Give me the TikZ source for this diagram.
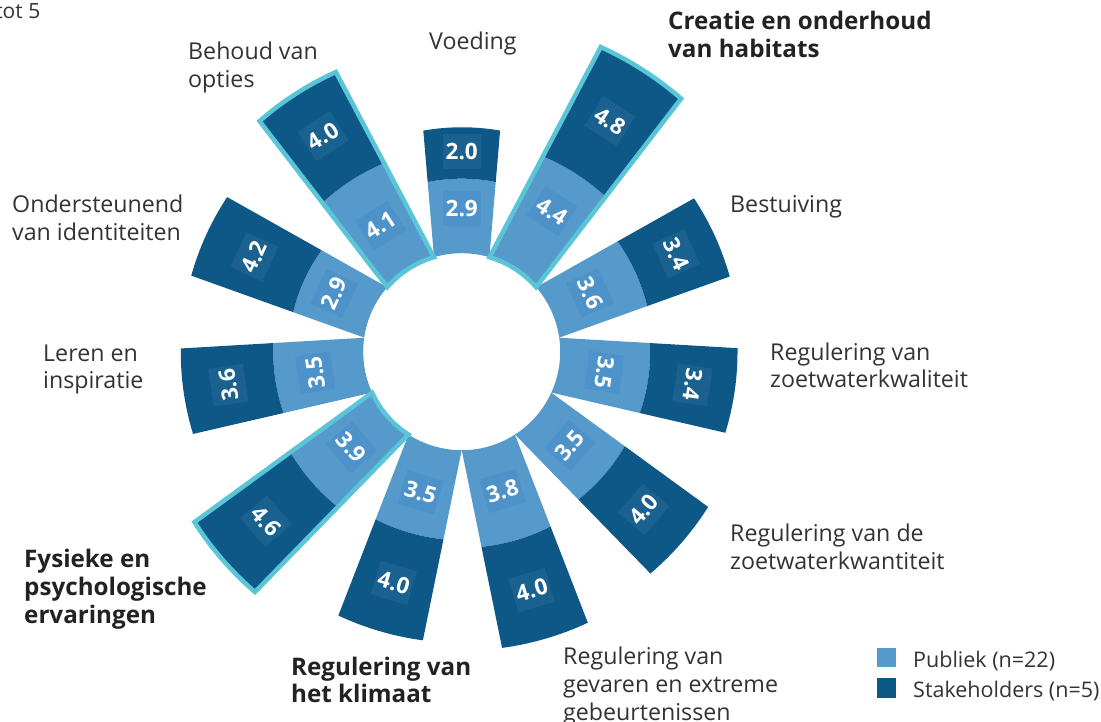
\documentclass[tikz,border=0pt]{standalone}
\usepackage{fontspec}
\setmainfont{Open Sans}
\definecolor{lightbar}{HTML}{5699CB}
\definecolor{darkbar}{HTML}{0E5887}
\definecolor{lightbox}{HTML}{4D93C9}
\definecolor{darkbox}{HTML}{1A618F}
\definecolor{hl}{HTML}{5AC5D7}
\definecolor{txt}{HTML}{333333}
\definecolor{btxt}{HTML}{222222}

\newcommand\wa{19.7}
\newcommand\wb{0.0846}
\newcommand\rz{98.5}
\newcommand\ku{25.7}

% half-angle of a bar side at radius #2, stored in #1
\newcommand\sideang[2]{%
  \pgfmathsetmacro\tmpS{\wa+\wb*#2}%
  \pgfmathsetmacro\tmpQ{\tmpS/#2}%
  \pgfmathsetmacro\tmpT{#2*sqrt(1-\tmpQ*\tmpQ)}%
  \pgfmathsetmacro\tmpS{\wa+\wb*\tmpT}%
  \pgfmathsetmacro#1{asin(\tmpS/#2)}%
}

% #1 name, #2 angle, #3 publiek, #4 stakeholders, #5 label rotation, #6 radius of inner label
\newcommand\ringbar[6]{%
  \pgfmathsetmacro\rA{\rz}%
  \pgfmathsetmacro\rB{\rz+\ku*#3}%
  \pgfmathsetmacro\rC{\rB+\ku*#4}%
  \sideang\aA\rA \sideang\aB\rB \sideang\aC\rC
  \fill[lightbar] ({#2+\aA}:\rA) -- ({#2+\aB}:\rB)
     arc[start angle={#2+\aB}, end angle={#2-\aB}, radius=\rB]
     -- ({#2-\aA}:\rA)
     arc[start angle={#2-\aA}, end angle={#2+\aA}, radius=\rA] -- cycle;
  \fill[darkbar] ({#2+\aB}:\rB) -- ({#2+\aC}:\rC)
     arc[start angle={#2+\aC}, end angle={#2-\aC}, radius=\rC]
     -- ({#2-\aB}:\rB)
     arc[start angle={#2-\aB}, end angle={#2+\aB}, radius=\rB] -- cycle;
  \pgfmathsetmacro\rM{\rB+0.5*(\rC-\rB)+1}%
  \node[numbox, fill=lightbox, rotate=#5] (#1p) at (#2:#6) {#3};
  \node[numbox, fill=darkbox, rotate=#5] (#1s) at (#2:\rM) {#4};
}

% cyan outline: #1 angle, #2 publiek, #3 stakeholders
\newcommand\ringoutline[3]{%
  \pgfmathsetmacro\rA{\rz}%
  \pgfmathsetmacro\rC{\rz+\ku*(#2+#3)}%
  \sideang\aA\rA \sideang\aC\rC
  \draw[hl, line width=4.5pt, line join=miter] ({#1+\aA}:\rA) -- ({#1+\aC}:\rC)
     arc[start angle={#1+\aC}, end angle={#1-\aC}, radius=\rC]
     -- ({#1-\aA}:\rA)
     arc[start angle={#1-\aA}, end angle={#1+\aA}, radius=\rA] -- cycle;
}

\begin{document}
\begin{tikzpicture}[x=1pt, y=1pt,
  numbox/.style={text=white, inner sep=0pt, minimum width=38pt, minimum height=35pt,
    font={\fontsize{22.5}{26}\selectfont\bfseries}},
  lbl/.style={anchor=base west, inner sep=0pt, text=txt, font={\fontsize{23.2}{28}\selectfont}},
  blbl/.style={anchor=base west, inner sep=0pt, text=btxt, font={\fontsize{24.2}{28}\selectfont\bfseries}},
  leg/.style={anchor=base west, inner sep=0pt, text=txt, font={\fontsize{21.5}{26}\selectfont}}]
\useasboundingbox (0,0) rectangle (1101,-722);
\fill[white] (0,0) rectangle (1101,-722);

\begin{scope}[shift={(461.7,-351.7)}]
  \ringbar{voed}{90}{2.9}{2.0}{0}{143}
  \ringbar{crea}{57.27}{4.4}{4.8}{-32.73}{167}
  \ringbar{best}{24.55}{3.6}{3.4}{-65.45}{141}
  \ringbar{kwal}{-8.18}{3.5}{3.4}{-98.18}{144}
  \ringbar{kwan}{-40.91}{3.5}{4.0}{49.09}{143}
  \ringbar{geva}{-73.64}{3.8}{4.0}{16.36}{145}
  \ringbar{klim}{-106.36}{3.5}{4.0}{-16.36}{146.5}
  \ringbar{fysi}{-139.09}{3.9}{4.6}{-49.09}{146}
  \ringbar{lere}{-171.82}{3.5}{3.6}{98.18}{148}
  \ringbar{onde}{155.45}{2.9}{4.2}{65.45}{140}
  \ringbar{beho}{122.73}{4.1}{4.0}{32.73}{150}
  \ringoutline{57.27}{4.4}{4.8}
  \ringoutline{-139.09}{3.9}{4.6}
  \ringoutline{122.73}{4.1}{4.0}
\end{scope}

% top-left fragment
\node[lbl, anchor=base east, font={\fontsize{21}{26}\selectfont}] (tot) at (40.5,-19) {tot 5};

% category labels
\node[lbl] (voedL) at (429,-50) {Voeding};
\node[lbl] (behoL1) at (188,-60) {Behoud van};
\node[lbl] (behoL2) at (188,-88) {opties};
\node[blbl] (creaL1) at (668,-30) {Creatie en onderhoud};
\node[blbl] (creaL2) at (668,-58) {van habitats};
\node[lbl] (bestL) at (730,-213) {Bestuiving};
\node[lbl] (ondeL1) at (12,-213) {Ondersteunend};
\node[lbl] (ondeL2) at (12,-241) {van identiteiten};
\node[lbl] (lereL1) at (43,-361) {Leren en};
\node[lbl] (lereL2) at (43,-388) {inspiratie};
\node[lbl] (kwalL1) at (770,-360) {Regulering van};
\node[lbl] (kwalL2) at (770,-387) {zoetwaterkwaliteit};
\node[lbl] (kwanL1) at (730,-541.5) {Regulering van de};
\node[lbl] (kwanL2) at (730,-569) {zoetwaterkwantiteit};
\node[blbl] (fysiL1) at (24,-567) {Fysieke en};
\node[blbl] (fysiL2) at (24,-595) {psychologische};
\node[blbl] (fysiL3) at (24,-623) {ervaringen};
\node[blbl] (klimL1) at (291,-675) {Regulering van};
\node[blbl] (klimL2) at (291,-702.5) {het klimaat};
\node[lbl] (gevaL1) at (563,-664) {Regulering van};
\node[lbl] (gevaL2) at (563,-692) {gevaren en extreme};
\node[lbl] (gevaL3) at (563,-720) {gebeurtenissen};

% legend
\fill[lightbar] (877,-648) rectangle (896,-667);
\fill[darkbar] (877,-678) rectangle (896,-698);
\node[leg] (legP) at (913,-667) {Publiek (n=22)};
\node[leg] (legS) at (913,-697) {Stakeholders (n=5)};
\end{tikzpicture}
\end{document}
